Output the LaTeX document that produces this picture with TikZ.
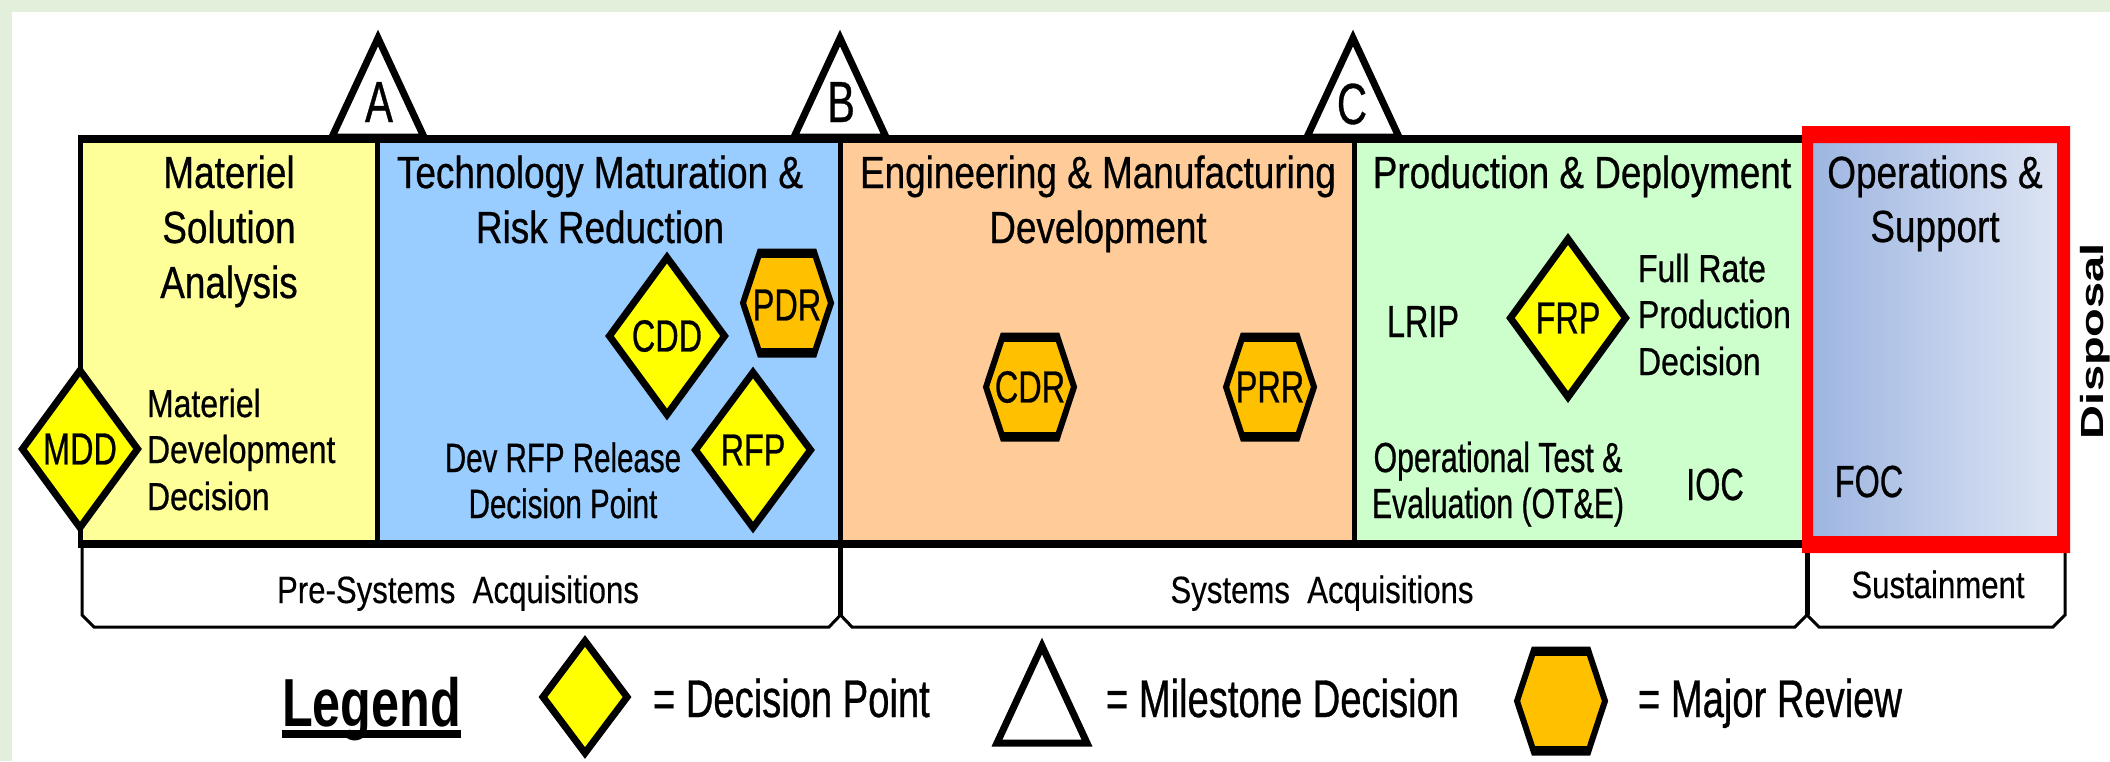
\documentclass[tikz,border=0pt]{standalone}
\usepackage{fontspec}
\usetikzlibrary{shapes.geometric}
\setmainfont{Liberation Sans}
\newfontfamily\narfont[FakeStretch=0.82,FakeBold=0.6]{Liberation Sans}
\newfontfamily\labfont[FakeStretch=0.72,FakeBold=0.6]{Liberation Sans}
\newfontfamily\thinfont[FakeStretch=0.82,FakeBold=0.3]{Liberation Sans}
\newfontfamily\legfont[FakeStretch=0.74]{Liberation Sans Bold}
\newfontfamily\dispfont[FakeStretch=1.47]{Liberation Sans Bold}

\definecolor{pagegreen}{HTML}{E2EFDA}
\definecolor{msayellow}{HTML}{FFFF99}
\definecolor{tmrblue}{HTML}{99CCFF}
\definecolor{emdpeach}{HTML}{FFCC99}
\definecolor{pdgreen}{HTML}{CCFFCC}
\definecolor{osleft}{HTML}{9DB5E1}
\definecolor{osright}{HTML}{DEE5F3}
\definecolor{dpyellow}{HTML}{FFFF00}
\definecolor{revorange}{HTML}{FFC000}
\definecolor{framered}{HTML}{FF0000}

\tikzset{
  txt/.style={inner sep=0pt, outer sep=0pt, anchor=base, text=black},
  headtxt/.style={txt, font=\narfont\fontsize{22.5pt}{27pt}\selectfont},
  bodytxt/.style={txt, font=\narfont\fontsize{19.5pt}{23pt}\selectfont},
  slimtxt/.style={txt, font=\labfont\fontsize{20.5pt}{24pt}\selectfont},
  bracktxt/.style={txt, font=\thinfont\fontsize{19pt}{23pt}\selectfont},
  marktxt/.style={txt, font=\labfont\fontsize{22.5pt}{27pt}\selectfont},
  mslabel/.style={txt, font=\labfont\fontsize{29pt}{34pt}\selectfont},
  legtxt/.style={txt, anchor=base west, font=\labfont\fontsize{26.5pt}{31pt}\selectfont},
  legtitle/.style={txt, anchor=base west, font=\legfont\fontsize{34pt}{40pt}\selectfont},
  dpoint/.style={diamond, draw=black, fill=dpyellow, line width=3.5pt, inner sep=0pt,
    minimum width=59pt, minimum height=80pt, font=\labfont\fontsize{22.5pt}{27pt}\selectfont},
  revframe/.style={draw=black, fill=revorange, line width=3pt, line join=miter},
  revedge/.style={draw=black, line width=4pt},
  revlabel/.style={inner sep=0pt, font=\labfont\fontsize{22.5pt}{27pt}\selectfont},
  msframe/.style={draw=black, fill=white, line width=3.5pt, line join=miter},
  phaseline/.style={draw=black, line width=4pt},
  phasediv/.style={draw=black, line width=2.5pt},
  bracket/.style={draw=black, line width=1.5pt},
}

\begin{document}
\begin{tikzpicture}[x=0.5pt, y=-0.5pt]
\useasboundingbox (0,0) rectangle (2110,761);

% page: green margin on the top and left
\fill[pagegreen] (0,0) rectangle (2110,761);
\fill[white] (12,12) rectangle (2110,761);

% phase backgrounds
\fill[msayellow] (80,139) rectangle (378,544);
\fill[tmrblue] (378,139) rectangle (841,544);
\fill[emdpeach] (841,139) rectangle (1355,544);
\fill[pdgreen] (1355,139) rectangle (1808,544);
\shade[left color=osleft, right color=osright] (1810,140) rectangle (2060,540);

% milestone triangles A, B, C
\coordinate (msA) at (378,137);
\coordinate (msB) at (840,137);
\coordinate (msC) at (1353,137);
\foreach \m in {msA,msB,msC}
  \draw[msframe] (\m) +(0,-99) -- +(-46,0) -- +(46,0) -- cycle;
\node[mslabel] (msA-lbl) at (379,122) {A};
\node[mslabel] (msB-lbl) at (841,122) {B};
\node[mslabel] (msC-lbl) at (1352,124) {C};

% phase box outline and dividers
\draw[phaseline] (78,139) -- (1806,139);
\draw[phaseline] (78,544) -- (1806,544);
\draw[phasediv] (80.5,139) -- (80.5,544);
\draw[phasediv] (377.5,139) -- (377.5,544);
\draw[phasediv] (840.5,139) -- (840.5,544);
\draw[phasediv] (1354.5,139) -- (1354.5,544);

% acquisition brackets below the phases
\draw[bracket] (82,546) -- (82,615) -- (94,627) -- (829,627) -- (840.5,615);
\draw[bracket] (840.5,615) -- (852,627) -- (1795,627) -- (1807,615);
\draw[bracket] (1807,615) -- (1819,627) -- (2053,627) -- (2065,615) -- (2065,553);
\draw[phasediv] (840.5,544) -- (840.5,615);
\draw[phasediv] (1807,550) -- (1807,615);

% operations and support frame
\fill[framered, even odd rule] (1802,126) rectangle (2070,553) (1813,143) rectangle (2057,536);

% phase headings
\node[headtxt] (msa1) at (229,188) {Materiel};
\node[headtxt] (msa2) at (229,243) {Solution};
\node[headtxt] (msa3) at (229,298) {Analysis};
\node[headtxt] (tmr1) at (600,188) {Technology Maturation \&};
\node[headtxt] (tmr2) at (600,243) {Risk Reduction};
\node[headtxt] (emd1) at (1098,188) {Engineering \& Manufacturing};
\node[headtxt] (emd2) at (1098,243) {Development};
\node[headtxt] (pd1) at (1582,188) {Production \& Deployment};
\node[headtxt] (os1) at (1935,188) {Operations \&};
\node[headtxt] (os2) at (1935,242) {Support};

% decision points
\node[dpoint] (mdd) at (80,449) {MDD};
\node[dpoint] (cdd) at (667,336) {CDD};
\node[dpoint, minimum height=79pt] (rfp) at (753,450) {RFP};
\node[dpoint, minimum height=80.5pt] (frp) at (1568,318) {FRP};

% major reviews: hexagons with heavier top and bottom edges
\coordinate (pdr-c) at (787,303);
\coordinate (cdr-c) at (1030,387);
\coordinate (prr-c) at (1270,387);
\coordinate (leg-rev) at (1561,701);
\foreach \r in {pdr-c,cdr-c,prr-c,leg-rev}{
  \draw[revframe] (\r) +(-44,0) -- +(-27,-51.5) -- +(27,-51.5) -- +(44,0) -- +(27,51.5) -- +(-27,51.5) -- cycle;
  \draw[revedge] (\r) +(-27,-49) -- +(27,-49) +(-27,49) -- +(27,49);
}
\node[revlabel] (pdr) at ([yshift=-1pt]pdr-c) {PDR};
\node[revlabel] (cdr) at (cdr-c) {CDR};
\node[revlabel] (prr) at (prr-c) {PRR};

% descriptive text
\node[bodytxt, anchor=base west] (mddt1) at (147,417) {Materiel};
\node[bodytxt, anchor=base west] (mddt2) at (147,463) {Development};
\node[bodytxt, anchor=base west] (mddt3) at (147,510) {Decision};
\node[slimtxt] (rfpt1) at (563,472) {Dev RFP Release};
\node[slimtxt] (rfpt2) at (563,518) {Decision Point};
\node[bodytxt, anchor=base west] (frpt1) at (1638,282) {Full Rate};
\node[bodytxt, anchor=base west] (frpt2) at (1638,328) {Production};
\node[bodytxt, anchor=base west] (frpt3) at (1638,375) {Decision};
\node[slimtxt, font=\labfont\fontsize{21pt}{25pt}\selectfont] (ote1) at (1498,472) {Operational Test \&};
\node[slimtxt, font=\labfont\fontsize{21pt}{25pt}\selectfont] (ote2) at (1498,518) {Evaluation (OT\&E)};
\node[marktxt] (lrip) at (1423,337) {LRIP};
\node[marktxt] (ioc) at (1715,500) {IOC};
\node[marktxt] (foc) at (1869,497) {FOC};

% bracket labels
\node[bracktxt] (presys) at (458,603) {Pre-Systems~ Acquisitions};
\node[bracktxt] (sys) at (1322,603) {Systems~ Acquisitions};
\node[bracktxt] (sust) at (1938,598) {Sustainment};

% disposal, written upwards at the right edge
\node[txt, rotate=90, font=\dispfont\fontsize{16pt}{19pt}\selectfont] (disp) at (2103,341) {Disposal};

% legend
\node[legtitle] (legend) at (282,726) {Legend};
\draw[line width=4pt] ([yshift=-4pt]legend.base west) -- ([yshift=-4pt]legend.base east);
\node[dpoint, minimum width=43.5pt, minimum height=57.5pt] (leg-dp) at (585,697) {};
\node[legtxt] (leg-dp-txt) at (653,717) {= Decision Point};
\coordinate (leg-ms) at (1042,743);
\draw[msframe] (leg-ms) +(0,-97) -- +(-45,0) -- +(45,0) -- cycle;
\node[legtxt] (leg-ms-txt) at (1106,717) {= Milestone Decision};
\node[legtxt] (leg-rev-txt) at (1638,717) {= Major Review};
\end{tikzpicture}
\end{document}
